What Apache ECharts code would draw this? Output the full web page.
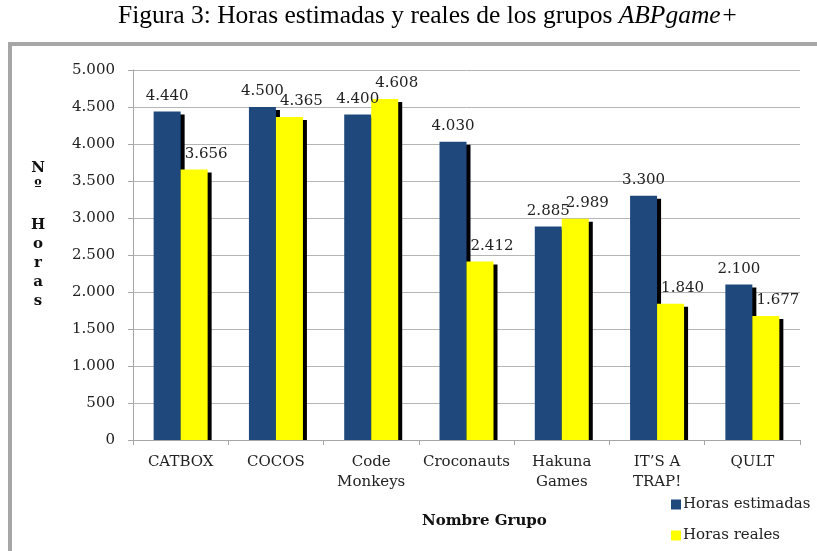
<!DOCTYPE html>
<html>
<head>
<meta charset="utf-8">
<script src="https://cdn.jsdelivr.net/npm/echarts@6/dist/echarts.min.js"></script>
<style>
  html, body { margin: 0; padding: 0; background: #fff; }
  #chart-box { width: 817px; height: 551px; }
</style>
</head>
<body>
<div id="chart-box"></div>
<script>
const grupos = ['CATBOX', 'COCOS', 'Code\nMonkeys', 'Croconauts', 'Hakuna\nGames', 'IT\u2019S A\nTRAP!', 'QULT'];
const horasEstimadas = [4440, 4500, 4400, 4030, 2885, 3300, 2100];
const horasReales = [3656, 4365, 4608, 2412, 2989, 1840, 1677];
const yTicks = [0, 500, 1000, 1500, 2000, 2500, 3000, 3500, 4000, 4500, 5000];

const numFont = 'DejaVu Serif';
const fmt = v => {
  const s = String(v);
  return s.length > 3 ? s.slice(0, s.length - 3) + '.' + s.slice(-3) : s;
};

const chart = echarts.init(document.getElementById('chart-box'));

// bar with hard black shadow, like the original spreadsheet style
const barStyle = color => ({
  color: color,
  shadowColor: '#000',
  shadowBlur: 0,
  shadowOffsetX: 4,
  shadowOffsetY: 3
});

chart.setOption({
  animation: false,
  backgroundColor: '#fff',
  graphic: [
    {
      type: 'rect',
      z: -10,
      shape: { x: 10, y: 44, width: 900, height: 700 },
      style: { fill: 'none', stroke: '#a6a6a6', lineWidth: 4 }
    },
    // hide the bar shadows below the category axis
    {
      type: 'rect',
      z: 3,
      shape: { x: 134, y: 440.5, width: 670, height: 5 },
      style: { fill: '#fff' }
    },
    {
      type: 'text',
      left: 118,
      top: 3,
      style: {
        text: '{n|Figura 3: Horas estimadas y reales de los grupos }{i|ABPgame+}',
        rich: {
          n: { fontFamily: 'Liberation Serif', fontSize: 25.5, fill: '#000' },
          i: { fontFamily: 'Liberation Serif', fontSize: 25.5, fontStyle: 'italic', fill: '#000' }
        }
      }
    },
    {
      type: 'text',
      x: 38,
      y: 159,
      style: {
        text: 'N\nº\n\nH\no\nr\na\ns',
        align: 'center',
        fontFamily: numFont,
        fontWeight: 'bold',
        fontSize: 15,
        lineHeight: 19,
        fill: '#111'
      }
    },
    {
      type: 'text',
      left: 422,
      top: 514,
      style: {
        text: 'Nombre Grupo',
        fontFamily: numFont,
        fontWeight: 'bold',
        fontSize: 15,
        fill: '#111'
      }
    }
  ],
  legend: {
    orient: 'vertical',
    left: 666,
    top: 492,
    itemWidth: 10,
    itemHeight: 10,
    itemGap: 16,
    icon: 'rect',
    textStyle: { fontFamily: numFont, fontSize: 15, color: '#222', padding: [3, 0, 0, -3] },
    data: ['Horas estimadas', 'Horas reales']
  },
  grid: { left: 133, right: 17, top: 70, bottom: 111 },
  xAxis: {
    type: 'category',
    z: 5,
    data: grupos,
    axisLine: { lineStyle: { color: '#a6a6a6', width: 1 } },
    axisTick: { show: true, length: 5, lineStyle: { color: '#a6a6a6' } },
    axisLabel: {
      interval: 0,
      margin: 12,
      fontFamily: numFont,
      fontSize: 15,
      lineHeight: 20,
      color: '#222'
    }
  },
  yAxis: {
    type: 'value',
    min: yTicks[0],
    max: yTicks[yTicks.length - 1],
    interval: yTicks[1] - yTicks[0],
    axisLine: { show: true, lineStyle: { color: '#a6a6a6', width: 1 } },
    axisTick: { show: true, length: 5, lineStyle: { color: '#a6a6a6' } },
    splitLine: { lineStyle: { color: '#b5b5b5', width: 1 } },
    axisLabel: {
      margin: 18,
      fontFamily: numFont,
      fontSize: 15,
      color: '#222',
      formatter: fmt
    }
  },
  series: [
    {
      name: 'Horas estimadas',
      type: 'bar',
      data: horasEstimadas,
      barWidth: 27,
      barGap: '0%',
      itemStyle: barStyle('#1f497d'),
      label: {
        show: true,
        position: 'top',
        distance: 8,
        fontFamily: numFont,
        fontSize: 15,
        color: '#222',
        formatter: p => fmt(p.value)
      }
    },
    {
      name: 'Horas reales',
      type: 'bar',
      data: horasReales,
      barWidth: 27,
      barGap: '0%',
      itemStyle: barStyle('#ffff00'),
      label: {
        show: true,
        position: 'top',
        distance: 8,
        offset: [12, 0],
        fontFamily: numFont,
        fontSize: 15,
        color: '#222',
        formatter: p => fmt(p.value)
      }
    }
  ]
});
</script>
</body>
</html>
